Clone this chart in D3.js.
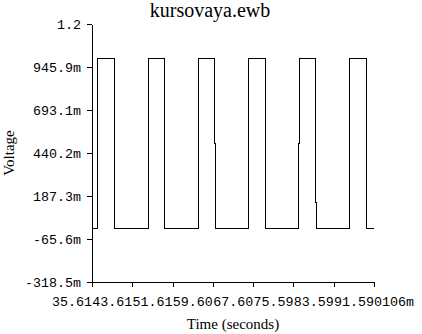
<!DOCTYPE html>
<html>
<head>
<meta charset="utf-8">
<script src="https://cdn.jsdelivr.net/npm/d3@7"></script>
<style>
  body { margin: 0; background: #fff; }
  svg { display: block; }
</style>
</head>
<body>
<script>
// chart data
var title = "kursovaya.ewb";
var xTitle = "Time (seconds)";
var yTitle = "Voltage";

// time in ms, voltage in V
var timeMs = [35.612, 36.664, 36.664, 40.039, 40.039, 46.629, 46.629, 49.964, 49.964,
  56.733, 56.733, 59.889, 59.889, 60.087, 60.087, 66.638, 66.638, 70.012, 70.012,
  76.503, 76.503, 76.702, 76.702, 79.937, 79.937, 80.136, 80.136, 86.686, 86.686,
  90.001, 90.001, 91.529];
var volts = [0, 0, 1, 1, 0, 0, 1, 1, 0,
  0, 1, 1, 0.5, 0.5, 0, 0, 1, 1, 0,
  0, 0.5, 0.5, 1, 1, 0.152, 0.152, 0, 0, 1,
  1, 0, 0];

var xTicks = [35.612, 43.610, 51.610, 59.605, 67.602, 75.598, 83.594, 91.590106];
var yTicks = [-0.3185, -0.0656, 0.1873, 0.4402, 0.6931, 0.9459, 1.1988];
var yTickLabels = ["-318.5m", "-65.6m", "187.3m", "440.2m", "693.1m", "945.9m", "1.2"];

var width = 422, height = 334;
// plot box (window.top is taken, so no bare "top")
var plotLeft = 92, plotRight = 374, plotTop = 24, plotBottom = 282;

var svg = d3.select("body").append("svg")
  .attr("width", width).attr("height", height);

svg.append("rect").attr("width", width).attr("height", height).attr("fill", "#fff");

var x = d3.scaleLinear().domain([xTicks[0], xTicks[xTicks.length - 1]]).range([plotLeft, plotRight]);
var y = d3.scaleLinear().domain([yTicks[0], yTicks[yTicks.length - 1]]).range([plotBottom, plotTop]);

var mono = "'Liberation Mono', 'Courier New', monospace";
var serif = "'Liberation Serif', 'Times New Roman', serif";

// y axis
var yAxis = svg.append("g").attr("transform", "translate(" + plotLeft + ",0)")
  .call(d3.axisLeft(y).tickValues(yTicks)
    .tickFormat(function (d, i) { return yTickLabels[i]; })
    .tickSize(5).tickSizeOuter(0).tickPadding(6));
yAxis.selectAll("path, line").attr("stroke", "#000").attr("shape-rendering", "crispEdges");
yAxis.selectAll("text").attr("fill", "#000")
  .style("font-family", mono).style("font-size", "13.33px");

// x axis
var xAxis = svg.append("g").attr("transform", "translate(0," + plotBottom + ")")
  .call(d3.axisBottom(x).tickValues(xTicks).tickFormat("")
    .tickSize(5).tickSizeOuter(0));
xAxis.selectAll("path, line").attr("stroke", "#000").attr("shape-rendering", "crispEdges");

// x tick labels: 10-char labels centred on ticks 5 chars apart, so each one
// hides the tail of the one before; only the visible head is written out
function xLabel(d, i) {
  var s = d.toFixed(6) + "m";
  return i < xTicks.length - 1 ? s.slice(0, 5) : s;
}
svg.append("g").selectAll("text").data(xTicks).join("text")
  .attr("x", function (d) { return x(d) - 40; })
  .attr("y", 305.5)
  .style("font-family", mono).style("font-size", "13.33px")
  .text(xLabel);

// trace
var pts = timeMs.map(function (t, i) { return [t, volts[i]]; });
var line = d3.line().x(function (d) { return x(d[0]); }).y(function (d) { return y(d[1]); });
svg.append("path").datum(pts)
  .attr("transform", "translate(0.5,0.5)")
  .attr("d", line)
  .attr("fill", "none").attr("stroke", "#000").attr("stroke-width", 1)
  .attr("shape-rendering", "crispEdges");

// titles
svg.append("text").attr("x", 210).attr("y", 17).attr("text-anchor", "middle")
  .style("font-family", serif).style("font-size", "20px").text(title);
svg.append("text").attr("x", (plotLeft + plotRight) / 2).attr("y", 329).attr("text-anchor", "middle")
  .style("font-family", serif).style("font-size", "15px").text(xTitle);
svg.append("text").attr("transform", "translate(13.5," + (plotTop + plotBottom) / 2 + ") rotate(-90)")
  .attr("text-anchor", "middle")
  .style("font-family", serif).style("font-size", "15px").text(yTitle);
</script>
</body>
</html>
